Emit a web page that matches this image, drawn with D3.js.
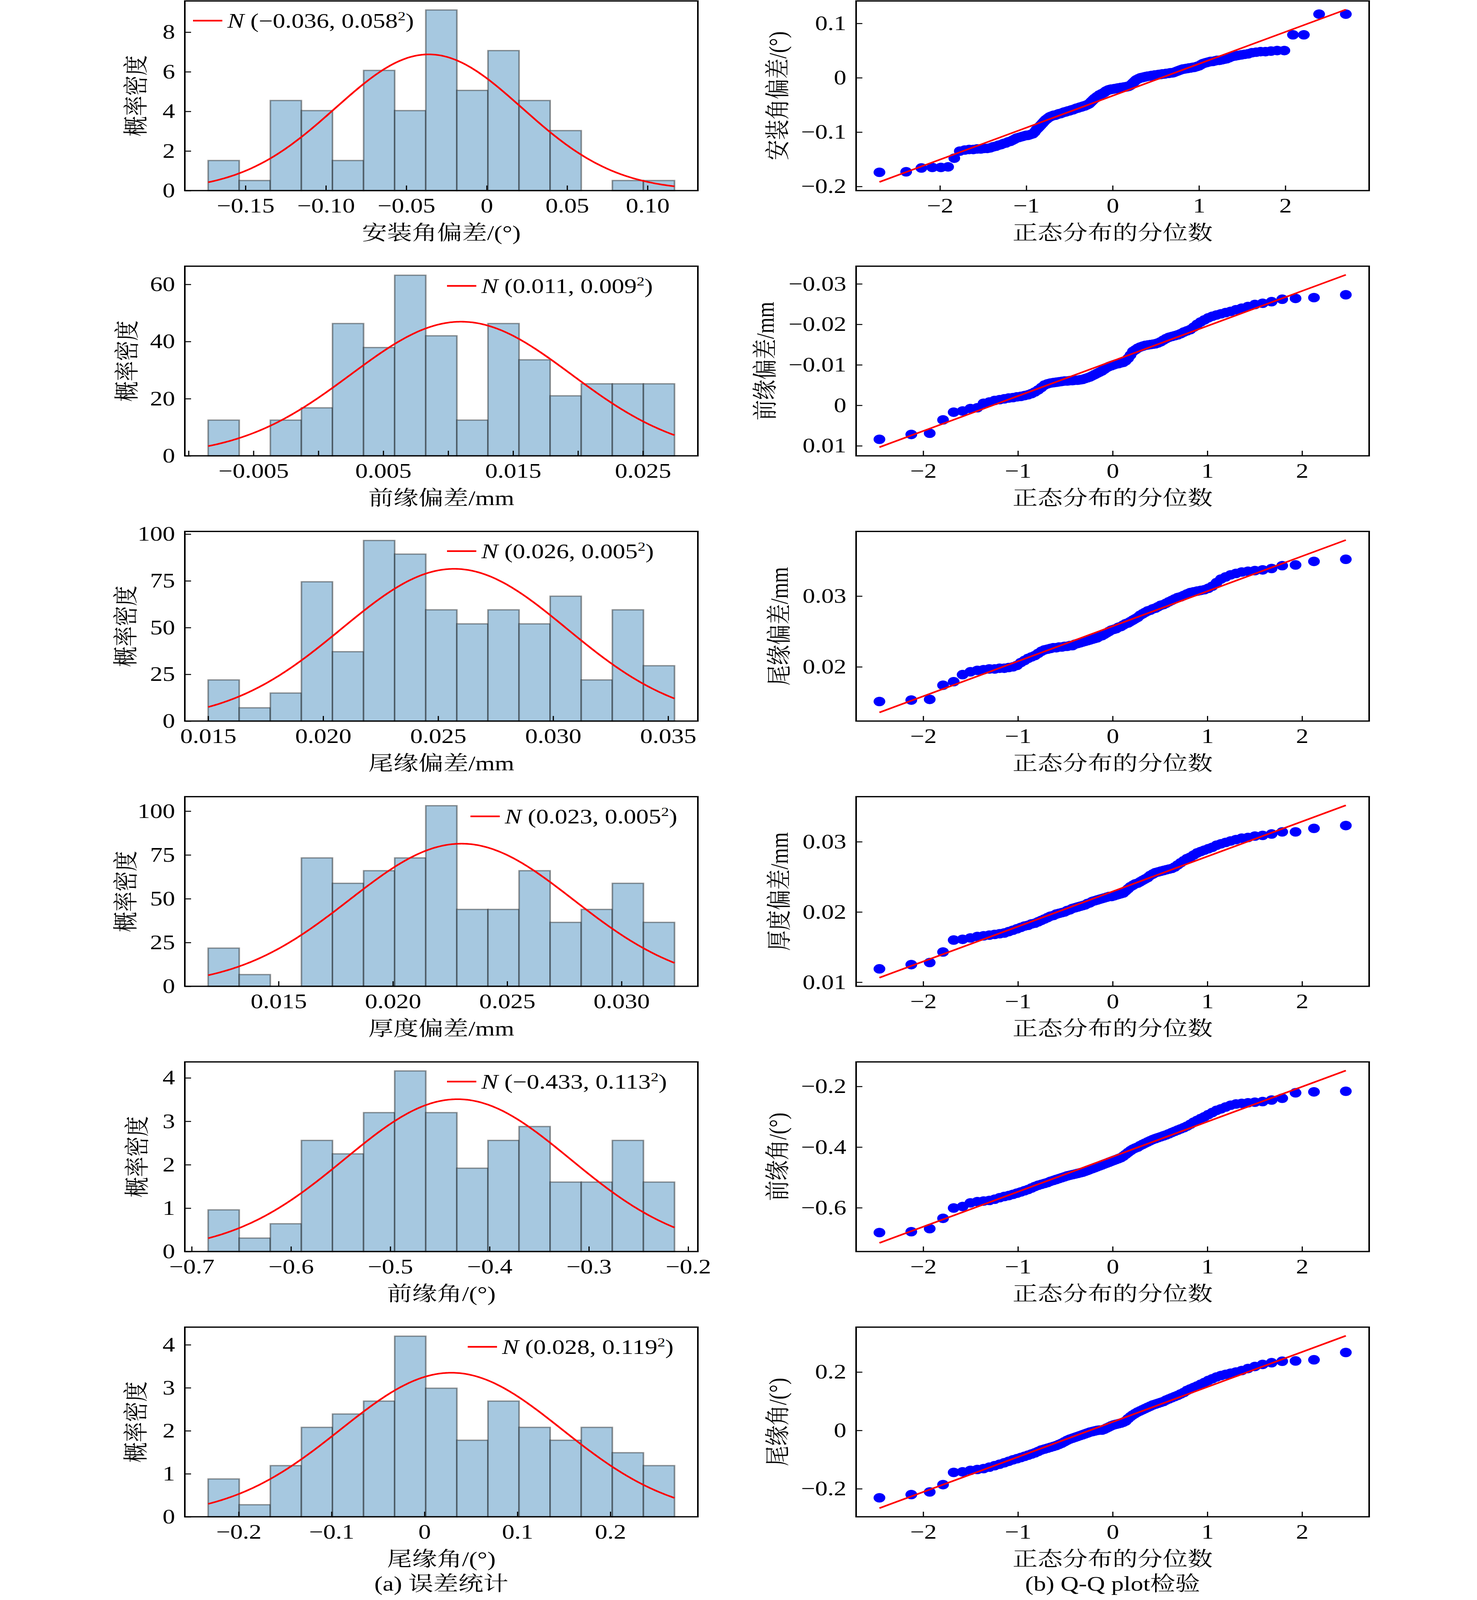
<!DOCTYPE html>
<html>
<head>
<meta charset="utf-8">
<script src="https://cdn.jsdelivr.net/npm/d3@7"></script>
<style>
html, body { margin: 0; background: #fff; overflow: hidden; }
svg { display: block; }
text { font-family: "Liberation Serif", "Times New Roman", "Noto Serif CJK SC", "Noto Sans CJK SC", serif; }
</style>
</head>
<body>
<div id="vis-container"></div>
<script>
// ---------- data ----------
var axisNames = ["安装角偏差/(°)", "前缘偏差/mm", "尾缘偏差/mm", "厚度偏差/mm", "前缘角/(°)", "尾缘角/(°)"];

// first and last bin edge of every histogram (15 equal bins)
var binRanges = [
    [-0.1732, 0.1168],
    [-0.00849, 0.02744],
    [0.0150, 0.03528],
    [0.01192, 0.03232],
    [-0.6834, -0.2137],
    [-0.2328, 0.2691]
];

// bar heights (probability density)
var densities = [
    [1.52, 0.51, 4.55, 4.04, 1.52, 6.07, 4.04, 9.12, 5.06, 7.07, 4.55, 3.03, 0, 0.51, 0.51],
    [12.5, 0, 12.5, 16.8, 46.3, 37.9, 63.2, 42.0, 12.5, 46.3, 33.6, 21.0, 25.2, 25.2, 25.2],
    [22.0, 7.1, 15.0, 74.5, 37.1, 96.6, 89.3, 59.5, 52.0, 59.5, 52.0, 66.8, 22.0, 59.5, 29.6],
    [21.8, 6.7, 0, 73.3, 58.8, 66.0, 73.3, 103.1, 43.9, 43.9, 66.0, 36.5, 43.9, 58.8, 36.5],
    [0.96, 0.31, 0.64, 2.56, 2.25, 3.20, 4.16, 3.20, 1.92, 2.56, 2.88, 1.60, 1.60, 2.56, 1.60],
    [0.88, 0.28, 1.19, 2.08, 2.39, 2.69, 4.20, 2.99, 1.78, 2.69, 2.08, 1.78, 2.08, 1.49, 1.19]
];

// fitted normal curves
var normMu = [-0.036, 0.011, 0.0257, 0.0230, -0.4323, 0.0289];
var normSigma = [0.058, 0.0085, 0.0049, 0.0049, 0.1137, 0.1191];
var legendMu = ["−0.036", "0.011", "0.026", "0.023", "−0.433", "0.028"];
var legendSigma = ["0.058", "0.009", "0.005", "0.005", "0.113", "0.119"];

var histXTicks = [
    [-0.15, -0.10, -0.05, 0, 0.05, 0.10],
    [-0.01, -0.005, 0, 0.005, 0.01, 0.015, 0.02, 0.025],
    [0.015, 0.020, 0.025, 0.030, 0.035],
    [0.015, 0.020, 0.025, 0.030],
    [-0.7, -0.6, -0.5, -0.4, -0.3, -0.2],
    [-0.2, -0.1, 0, 0.1, 0.2]
];
var histXLabels = [
    ["−0.15", "−0.10", "−0.05", "0", "0.05", "0.10"],
    ["", "−0.005", "", "0.005", "", "0.015", "", "0.025"],
    ["0.015", "0.020", "0.025", "0.030", "0.035"],
    ["0.015", "0.020", "0.025", "0.030"],
    ["−0.7", "−0.6", "−0.5", "−0.4", "−0.3", "−0.2"],
    ["−0.2", "−0.1", "0", "0.1", "0.2"]
];
var histYTicks = [[0, 2, 4, 6, 8], [0, 20, 40, 60], [0, 25, 50, 75, 100], [0, 25, 50, 75, 100], [0, 1, 2, 3, 4], [0, 1, 2, 3, 4]];

// sorted samples shown in the Q-Q plots
var qq1 = [
    -0.174, -0.173, -0.166, -0.165, -0.165, -0.164, -0.148, -0.135,
    -0.133, -0.132, -0.132, -0.131, -0.131, -0.130, -0.130, -0.129,
    -0.127, -0.126, -0.124, -0.123, -0.121, -0.120, -0.118, -0.117, -0.115, -0.113,
    -0.111, -0.110, -0.109, -0.108, -0.107, -0.106, -0.106, -0.105, -0.104, -0.103, -0.100,
    -0.096, -0.093, -0.090, -0.087, -0.084, -0.081, -0.078, -0.076, -0.074, -0.072,
    -0.071, -0.070, -0.069, -0.069, -0.068, -0.067, -0.066, -0.066, -0.065, -0.064, -0.063, -0.063, -0.062, -0.061, -0.061, -0.060, -0.059, -0.059, -0.058,
    -0.057, -0.056, -0.056, -0.055, -0.054, -0.054, -0.053, -0.052, -0.052, -0.051, -0.050, -0.049, -0.048, -0.046, -0.044, -0.042,
    -0.040, -0.038, -0.037, -0.035, -0.034, -0.032, -0.031, -0.030, -0.029, -0.028, -0.027, -0.025, -0.024,
    -0.023, -0.022, -0.022, -0.021, -0.021, -0.021, -0.020, -0.020, -0.020, -0.019, -0.019, -0.019, -0.018, -0.018, -0.018, -0.017, -0.017, -0.017, -0.016, -0.016, -0.015, -0.014, -0.012, -0.010, -0.008,
    -0.006, -0.004, -0.003, -0.002, -0.001, 0.000, 0.000, 0.001, 0.001, 0.002, 0.002, 0.003, 0.003,
    0.003, 0.004, 0.004, 0.004, 0.005, 0.005, 0.005, 0.006, 0.006, 0.006, 0.007, 0.007, 0.007, 0.008, 0.008, 0.008, 0.009, 0.009, 0.009, 0.010, 0.011, 0.012, 0.013, 0.014, 0.015,
    0.016, 0.016, 0.017, 0.017, 0.018, 0.018, 0.019, 0.019, 0.020, 0.021, 0.022, 0.024, 0.026, 0.027, 0.028,
    0.029, 0.030, 0.030, 0.031, 0.032, 0.032, 0.033, 0.034, 0.035, 0.037,
    0.039, 0.040, 0.041, 0.042, 0.043, 0.044,
    0.046, 0.047, 0.048, 0.048, 0.049, 0.050, 0.050,
    0.079, 0.079, 0.117, 0.117
];
var qq2 = [
    -0.0084, -0.0072, -0.0069, -0.0036, -0.0017, -0.0014, -0.0008, -0.0006, 0.0005, 0.0008,
    0.0012, 0.0014, 0.0016, 0.0018, 0.0019, 0.0021, 0.0022, 0.0024, 0.0026, 0.0029, 0.0033,
    0.0038, 0.0044, 0.0050, 0.0053, 0.0055, 0.0056, 0.0057, 0.0058, 0.0059,
    0.0060, 0.0060, 0.0061, 0.0061, 0.0062, 0.0062, 0.0063, 0.0064, 0.0066, 0.0068, 0.0070, 0.0073, 0.0076, 0.0079, 0.0082,
    0.0085, 0.0089, 0.0093, 0.0096, 0.0098, 0.0100, 0.0102, 0.0103, 0.0105, 0.0106,
    0.0110, 0.0116, 0.0124,
    0.0133, 0.0137, 0.0141, 0.0144, 0.0146, 0.0148, 0.0149, 0.0150, 0.0151, 0.0152, 0.0154,
    0.0157, 0.0161, 0.0165, 0.0168, 0.0170, 0.0172, 0.0174, 0.0177,
    0.0181, 0.0184, 0.0187, 0.0193, 0.0200,
    0.0206, 0.0211, 0.0216, 0.0220, 0.0223, 0.0226,
    0.0229, 0.0232, 0.0236, 0.0240, 0.0244, 0.0249,
    0.0252, 0.0256, 0.0262, 0.0264, 0.0266, 0.0273
];
var qq3 = [
    0.0151, 0.0153, 0.0154, 0.0174, 0.0179, 0.0189,
    0.0193, 0.0195, 0.0196, 0.0197, 0.0197, 0.0198, 0.0198, 0.0199, 0.0200, 0.0202,
    0.0206, 0.0209, 0.0212, 0.0214, 0.0216,
    0.0219, 0.0222, 0.0224, 0.0225, 0.0226, 0.0227, 0.0227, 0.0228, 0.0228, 0.0229, 0.0229, 0.0230, 0.0230,
    0.0232, 0.0233, 0.0234, 0.0235, 0.0236, 0.0237, 0.0238, 0.0239, 0.0240, 0.0241, 0.0243, 0.0244,
    0.0246, 0.0248, 0.0250, 0.0252, 0.0253, 0.0254, 0.0256, 0.0257,
    0.0259, 0.0261, 0.0262, 0.0264, 0.0266, 0.0268, 0.0270,
    0.0273, 0.0275, 0.0277, 0.0279, 0.0280, 0.0282, 0.0283, 0.0285,
    0.0287, 0.0288, 0.0290, 0.0292, 0.0294, 0.0296, 0.0298,
    0.0299, 0.0301, 0.0303, 0.0305, 0.0306, 0.0307, 0.0308, 0.0309, 0.0311,
    0.0314, 0.0319, 0.0324,
    0.0327, 0.0330, 0.0332, 0.0334, 0.0335, 0.0336, 0.0337, 0.0339,
    0.0343, 0.0344, 0.0349, 0.0352
];
var qq4 = [
    0.0119, 0.0125, 0.0128, 0.0143,
    0.0160, 0.0161, 0.0163, 0.0165, 0.0166, 0.0167, 0.0168, 0.0169, 0.0170, 0.0172,
    0.0174, 0.0176, 0.0178, 0.0180, 0.0181, 0.0183, 0.0184, 0.0186,
    0.0188, 0.0190, 0.0192, 0.0194, 0.0195, 0.0197, 0.0198, 0.0199, 0.0200,
    0.0202, 0.0203, 0.0205, 0.0206, 0.0207, 0.0208, 0.0209, 0.0210, 0.0212, 0.0213,
    0.0215, 0.0216, 0.0217, 0.0218, 0.0219, 0.0220, 0.0221, 0.0222, 0.0222, 0.0223, 0.0224, 0.0225, 0.0226, 0.0227,
    0.0230, 0.0233, 0.0236, 0.0238, 0.0240, 0.0241,
    0.0243, 0.0245, 0.0247, 0.0249, 0.0252, 0.0254,
    0.0256, 0.0257, 0.0258, 0.0259, 0.0260, 0.0261, 0.0262, 0.0264, 0.0267,
    0.0270, 0.0273, 0.0276, 0.0278, 0.0281,
    0.0284, 0.0286, 0.0288, 0.0290, 0.0292, 0.0295,
    0.0297, 0.0299, 0.0301, 0.0303, 0.0305, 0.0306, 0.0308, 0.0309,
    0.0311, 0.0314, 0.0314, 0.0319, 0.0323
];
var qq5 = [
    -0.682, -0.679, -0.669, -0.635, -0.601, -0.596,
    -0.584, -0.580, -0.578, -0.576, -0.572, -0.567, -0.563, -0.560,
    -0.556, -0.552, -0.548, -0.544, -0.540, -0.535, -0.530,
    -0.526, -0.523, -0.520, -0.517, -0.513, -0.510, -0.507, -0.504, -0.501, -0.498,
    -0.495, -0.493, -0.491, -0.489, -0.487, -0.485, -0.483, -0.480, -0.477, -0.474, -0.471, -0.468, -0.465,
    -0.462, -0.459, -0.456, -0.453, -0.450, -0.447, -0.444, -0.441, -0.438, -0.435,
    -0.430, -0.424, -0.418, -0.412, -0.407, -0.403,
    -0.400, -0.395, -0.391, -0.387, -0.383, -0.379, -0.375, -0.372,
    -0.369, -0.366, -0.363, -0.360, -0.356, -0.352, -0.348, -0.344, -0.340,
    -0.336, -0.331, -0.325, -0.318, -0.312,
    -0.306, -0.300, -0.293, -0.286, -0.279,
    -0.274, -0.268, -0.262, -0.258, -0.256, -0.254, -0.252, -0.250,
    -0.245, -0.239, -0.221, -0.218, -0.216
];
var qq6 = [
    -0.231, -0.220, -0.211, -0.186, -0.144, -0.142, -0.137, -0.134,
    -0.131, -0.126, -0.121, -0.116, -0.111, -0.106, -0.101,
    -0.097, -0.093, -0.089, -0.085, -0.081, -0.077, -0.072, -0.067,
    -0.064, -0.061, -0.058, -0.055, -0.052, -0.048, -0.044, -0.039, -0.034,
    -0.030, -0.027, -0.024, -0.021, -0.018, -0.015, -0.012, -0.009, -0.006, -0.004, -0.002, 0.000, 0.001, 0.001,
    0.004, 0.008, 0.012, 0.016, 0.019, 0.021, 0.023, 0.025, 0.028, 0.032,
    0.040, 0.047, 0.053, 0.058, 0.063, 0.067,
    0.071, 0.075, 0.079, 0.083, 0.087, 0.090, 0.093, 0.096, 0.099,
    0.104, 0.108, 0.112, 0.116, 0.120, 0.125, 0.130,
    0.137, 0.142, 0.147, 0.152, 0.158, 0.164,
    0.171, 0.177, 0.183, 0.188, 0.192, 0.196, 0.200,
    0.205, 0.212, 0.219, 0.226, 0.232,
    0.237, 0.238, 0.242, 0.267
];
var qqSamples = [qq1, qq2, qq3, qq4, qq5, qq6];

var qqXTicks = [-2, -1, 0, 1, 2];
var qqXLabels = ["−2", "−1", "0", "1", "2"];
var qqYTicks = [[-0.2, -0.1, 0, 0.1], [0.03, 0.02, 0.01, 0, -0.01], [0.02, 0.03], [0.01, 0.02, 0.03], [-0.6, -0.4, -0.2], [-0.2, 0, 0.2]];
var qqYLabels = [
    ["−0.2", "−0.1", "0", "0.1"],
    ["−0.03", "−0.02", "−0.01", "0", "0.01"],
    ["0.02", "0.03"],
    ["0.01", "0.02", "0.03"],
    ["−0.6", "−0.4", "−0.2"],
    ["−0.2", "0", "0.2"]
];

// ---------- layout ----------
// the figure is laid out on a 3780 x 5037 canvas and fitted to the window
var width = 3780, height = 5037;
var leftX = 473, rightX = 2191;
var plotW = 1313, plotH = 597;
var rowTop = 3, rowStep = 835;
var fontSize = 64;
var tickLen = 16;
var legendX = [21, 671, 671, 731, 671, 724];   // legend line start inside each histogram
var histYLabelX = [348, 325, 322, 322, 351, 348];

var svg = d3.select("#vis-container").append("svg")
    .attr("width", window.innerWidth || width)
    .attr("height", window.innerHeight || height)
    .attr("viewBox", "0 0 " + width + " " + height)
    .attr("preserveAspectRatio", "none");

// inverse normal cdf (Acklam) for the theoretical quantiles
function normInv(p) {
    var a = [-3.969683028665376e+01, 2.209460984245205e+02, -2.759285104469687e+02, 1.383577518672690e+02, -3.066479806614716e+01, 2.506628277459239e+00];
    var b = [-5.447609879822406e+01, 1.615858368580409e+02, -1.556989798598866e+02, 6.680131188771972e+01, -1.328068155288572e+01];
    var c = [-7.784894002430293e-03, -3.223964580411365e-01, -2.400758277161838e+00, -2.549732539343734e+00, 4.374664141464968e+00, 2.938163982698783e+00];
    var d = [7.784695709041462e-03, 3.224671290700398e-01, 2.445134137142996e+00, 3.754408661907416e+00];
    var q, r;
    if (p < 0.02425) {
        q = Math.sqrt(-2 * Math.log(p));
        return (((((c[0] * q + c[1]) * q + c[2]) * q + c[3]) * q + c[4]) * q + c[5]) / ((((d[0] * q + d[1]) * q + d[2]) * q + d[3]) * q + 1);
    }
    if (p > 1 - 0.02425) {
        q = Math.sqrt(-2 * Math.log(1 - p));
        return -(((((c[0] * q + c[1]) * q + c[2]) * q + c[3]) * q + c[4]) * q + c[5]) / ((((d[0] * q + d[1]) * q + d[2]) * q + d[3]) * q + 1);
    }
    q = p - 0.5;
    r = q * q;
    return (((((a[0] * r + a[1]) * r + a[2]) * r + a[3]) * r + a[4]) * r + a[5]) * q / (((((b[0] * r + b[1]) * r + b[2]) * r + b[3]) * r + b[4]) * r + 1);
}

// Filliben order statistic medians, as scipy probplot does
function theoreticalQuantiles(n) {
    var m = d3.range(n).map(i => (i + 1 - 0.3175) / (n + 0.365));
    m[n - 1] = Math.pow(0.5, 1 / n);
    m[0] = 1 - m[n - 1];
    return m.map(normInv);
}

function padded(ext) {
    var pad = (ext[1] - ext[0]) * 0.05;
    return [ext[0] - pad, ext[1] + pad];
}

function styleAxis(g) {
    g.attr("font-size", fontSize).attr("font-family", null);
    g.select(".domain").remove();
    g.selectAll(".tick line").attr("stroke", "#000").attr("stroke-width", 3);
    g.selectAll(".tick text").attr("fill", "#000");
}

function drawAxes(g, x, y, xt, xl, yt, yl) {
    g.append("g")
        .attr("transform", "translate(0," + plotH + ")")
        .call(d3.axisBottom(x).tickValues(xt).tickFormat((d, i) => xl[i])
            .tickSizeInner(-tickLen).tickSizeOuter(0).tickPadding(23))
        .call(styleAxis);

    var gy = g.append("g")
        .call(d3.axisLeft(y).tickValues(yt).tickFormat((d, i) => yl[i])
            .tickSizeInner(-tickLen).tickSizeOuter(0).tickPadding(25))
        .call(styleAxis);

    g.append("rect")
        .attr("width", plotW)
        .attr("height", plotH)
        .attr("fill", "none")
        .attr("stroke", "#000")
        .attr("stroke-width", 4);
    return gy;
}

function xLabel(g, txt) {
    g.append("text")
        .attr("x", plotW / 2)
        .attr("y", plotH + 155)
        .attr("text-anchor", "middle")
        .attr("font-size", fontSize)
        .text(txt);
}

function yLabel(g, cx, txt) {
    g.append("text")
        .attr("transform", "translate(" + cx + "," + plotH / 2 + ") rotate(-90)")
        .attr("text-anchor", "middle")
        .attr("dy", "0.35em")
        .attr("font-size", fontSize)
        .text(txt);
}

// ---------- histograms (left column) ----------
densities.forEach(function (dens, k) {
    var g = svg.append("g").attr("transform", "translate(" + leftX + "," + (rowTop + k * rowStep) + ")");
    var lo = binRanges[k][0], hi = binRanges[k][1];
    var bw = (hi - lo) / dens.length;
    var mu = normMu[k], sd = normSigma[k];
    var pdf = v => Math.exp(-0.5 * Math.pow((v - mu) / sd, 2)) / (sd * Math.sqrt(2 * Math.PI));

    var x = d3.scaleLinear().domain(padded([lo, hi])).range([0, plotW]);
    var yMax = Math.max(d3.max(dens), pdf(mu)) * 1.05;
    var y = d3.scaleLinear().domain([0, yMax]).range([plotH, 0]);

    var bars = dens.map((v, i) => ({ x0: lo + i * bw, x1: lo + (i + 1) * bw, v: v }));
    g.selectAll("rect.bar")
        .data(bars.filter(b => b.v > 0))
        .enter().append("rect")
        .attr("class", "bar")
        .attr("x", d => x(d.x0))
        .attr("width", d => x(d.x1) - x(d.x0))
        .attr("y", d => y(d.v))
        .attr("height", d => plotH - y(d.v))
        .attr("fill", "#a6c8e0")
        .attr("stroke", "#000")
        .attr("stroke-opacity", 0.4)
        .attr("stroke-width", 4);

    var xs = d3.range(0, 301).map(j => lo + (hi - lo) * j / 300);
    g.append("path")
        .attr("d", d3.line().x(v => x(v)).y(v => y(pdf(v)))(xs))
        .attr("fill", "none")
        .attr("stroke", "#ff0000")
        .attr("stroke-width", 5);

    drawAxes(g, x, y, histXTicks[k], histXLabels[k], histYTicks[k], histYTicks[k].map(String));
    xLabel(g, axisNames[k]);
    yLabel(g, histYLabelX[k] - leftX, "概率密度");

    // legend
    var lg = g.append("g").attr("transform", "translate(" + legendX[k] + ",62)");
    lg.append("line").attr("x1", 0).attr("x2", 75).attr("stroke", "#ff0000").attr("stroke-width", 5);
    var t = lg.append("text").attr("x", 88).attr("dy", "0.35em").attr("font-size", fontSize);
    t.append("tspan").attr("font-style", "italic").text("N");
    t.append("tspan").text(" (" + legendMu[k] + ", " + legendSigma[k]);
    t.append("tspan").attr("font-size", 40).attr("dy", -24).text("2");
    t.append("tspan").attr("dy", 24).text(")");
});

// ---------- Q-Q plots (right column) ----------
qqSamples.forEach(function (sample, k) {
    var g = svg.append("g").attr("transform", "translate(" + rightX + "," + (rowTop + k * rowStep) + ")");
    var z = theoreticalQuantiles(sample.length);
    var pts = sample.map((v, i) => ({ z: z[i], v: v }));

    // least squares line through the points
    var zm = d3.mean(z), vm = d3.mean(sample);
    var slope = d3.sum(pts, p => (p.z - zm) * (p.v - vm)) / d3.sum(pts, p => (p.z - zm) * (p.z - zm));
    var icpt = vm - slope * zm;
    var zExt = d3.extent(z);
    var lineEnds = zExt.map(q => ({ z: q, v: icpt + slope * q }));

    var x = d3.scaleLinear().domain(padded(zExt)).range([0, plotW]);
    var y = d3.scaleLinear()
        .domain(padded(d3.extent(sample.concat(lineEnds.map(p => p.v)))))
        .range([plotH, 0]);

    g.selectAll("circle")
        .data(pts)
        .enter().append("circle")
        .attr("cx", d => x(d.z))
        .attr("cy", d => y(d.v))
        .attr("r", 15)
        .attr("fill", "#0000ff");

    g.append("path")
        .attr("d", d3.line().x(p => x(p.z)).y(p => y(p.v))(lineEnds))
        .attr("fill", "none")
        .attr("stroke", "#ff0000")
        .attr("stroke-width", 5);

    var gy = drawAxes(g, x, y, qqXTicks, qqXLabels, qqYTicks[k], qqYLabels[k]);
    xLabel(g, "正态分布的分位数");
    var bb = gy.node().getBBox();
    yLabel(g, bb.x - 60, axisNames[k]);
});

// ---------- captions ----------
svg.append("text")
    .attr("x", leftX + plotW / 2)
    .attr("y", 5008)
    .attr("text-anchor", "middle")
    .attr("font-size", fontSize)
    .text("(a) 误差统计");

svg.append("text")
    .attr("x", rightX + plotW / 2)
    .attr("y", 5008)
    .attr("text-anchor", "middle")
    .attr("font-size", fontSize)
    .text("(b) Q-Q plot检验");
</script>
</body>
</html>
